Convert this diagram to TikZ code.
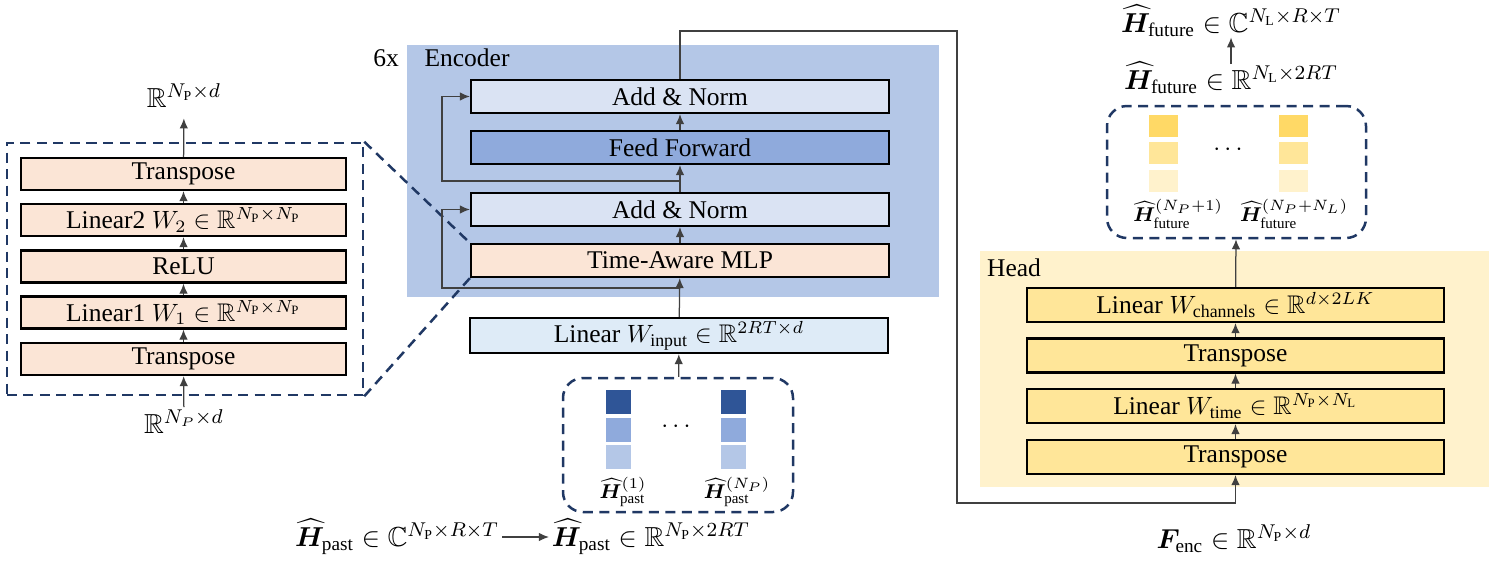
\documentclass[tikz,border=0pt]{standalone}
\usepackage{amsmath}
\usepackage{amssymb}
\usepackage{bm}
\usepackage{fontspec}
\setmainfont{Liberation Serif}
\usetikzlibrary{arrows.meta}
\definecolor{peach}{HTML}{FBE5D6}
\definecolor{encbg}{HTML}{B4C7E7}
\definecolor{addblue}{HTML}{DAE3F3}
\definecolor{ffblue}{HTML}{8FAADC}
\definecolor{inblue}{HTML}{DEEBF7}
\definecolor{headbg}{HTML}{FFF2CC}
\definecolor{headbox}{HTML}{FFE699}
\definecolor{navy}{HTML}{203864}
\definecolor{pastA}{HTML}{2F5597}
\definecolor{pastB}{HTML}{8FAADC}
\definecolor{pastC}{HTML}{B4C7E7}
\definecolor{futA}{HTML}{FFD966}
\definecolor{futB}{HTML}{FFE699}
\definecolor{futC}{HTML}{FFF2CC}
\newcommand{\Hh}{\widehat{\bm{H}}}
\newcommand{\R}{\mathbb{R}}
\newcommand{\NP}{N_\mathrm{P}}
\newcommand{\NL}{N_\mathrm{L}}

\begin{document}
\begin{tikzpicture}[x=0.4pt,y=-0.4pt,font=\fontsize{10.2}{12}\selectfont,
    box/.style={draw=black, line width=0.9pt, inner sep=0pt, minimum height=12.8pt},
    mlpbox/.style={box, fill=peach, minimum width=130pt},
    encbox/.style={box, minimum width=167.2pt, minimum height=13.2pt},
    headstep/.style={box, fill=headbox, minimum width=166.8pt, minimum height=13.6pt},
    flow/.style={draw=black!75, line width=0.5pt, -{Latex[length=4pt,width=3.4pt]}},
    zoomline/.style={draw=navy, line width=1pt, dash pattern=on 4pt off 2.6pt},
    pasttile/.style={inner sep=0pt, minimum width=10pt, minimum height=9.6pt},
    futtile/.style={inner sep=0pt, minimum width=11.6pt, minimum height=8.8pt},
    mathlbl/.style={font=\fontsize{11}{13}\selectfont, inner sep=1pt},
    tilelbl/.style={font=\fontsize{8}{10}\selectfont, inner sep=0.5pt}]
      \useasboundingbox (0,0) rectangle (1495,562);
      % backgrounds
      \fill[encbg] (407,45) rectangle (939,297);
      \fill[headbg] (980,251) rectangle (1489,487);
      \node (rep) at (386,58) {6x};
      \node (enclbl) at (467,58) {Encoder};
      \node (headlbl) at (1014,268) {Head};
      % time-aware MLP in detail
      \node[zoomline, draw, minimum width=142.4pt, minimum height=100.8pt] (mlpframe) at (185,269) {};
      \node[mlpbox] (trB) at (183.5,359) {Transpose};
      \node[mlpbox] (linA) at (183.5,312.5) {Linear1 $W_1 \in \R^{\NP\times\NP}$};
      \node[mlpbox] (relu) at (183.5,266.5) {ReLU};
      \node[mlpbox] (linB) at (183.5,220) {Linear2 $W_2 \in \R^{\NP\times\NP}$};
      \node[mlpbox] (trA) at (183.5,174) {Transpose};
      \node[mathlbl] (mlpin) at (184,422) {$\R^{N_P\times d}$};
      \node[mathlbl] (mlpout) at (184,96) {$\R^{\NP\times d}$};
      \draw[flow] (mlpin) -- (trB);
      \draw[flow] (trB) -- (linA);
      \draw[flow] (linA) -- (relu);
      \draw[flow] (relu) -- (linB);
      \draw[flow] (linB) -- (trA);
      \draw[flow, shorten >=3pt] (trA) -- (mlpout);
      % encoder
      \node[encbox, fill=addblue] (addtop) at (680,96.5) {Add \& Norm};
      \node[encbox, fill=ffblue] (ffwd) at (680,147.5) {Feed Forward};
      \node[encbox, fill=addblue] (addmid) at (680,209.5) {Add \& Norm};
      \node[encbox, fill=peach] (mlp) at (680,260.5) {Time-Aware MLP};
      \node[encbox, fill=inblue, minimum height=14pt] (linin) at (679,335.5) {Linear $W_\mathrm{input} \in \R^{2RT\times d}$};
      \draw[zoomline] (mlpframe.north east) -- (mlp.north west);
      \draw[zoomline] (mlpframe.south east) -- (mlp.south west);
      \coordinate (resA) at (680,181);
      \coordinate (skipA) at (442,181);
      \coordinate (resB) at (680,288);
      \coordinate (skipB) at (442,288);
      \draw[flow] (linin) -- (mlp);
      \draw[flow] (mlp) -- (addmid);
      \draw[flow] (addmid) -- (ffwd);
      \draw[flow] (ffwd) -- (addtop);
      \draw[flow] (resA) -- (skipA) |- (addtop.west);
      \draw[flow] (resB) -- (skipB) |- (addmid.west);
      % past input
      \node[draw=navy, line width=1pt, dash pattern=on 4pt off 2.6pt, rounded corners=8pt,
        minimum width=92pt, minimum height=53.6pt] (pastbox) at (678,445) {};
      \node[pasttile, fill=pastA] (p1a) at (618.5,402) {};
      \node[pasttile, fill=pastB] (p1b) at (618.5,430) {};
      \node[pasttile, fill=pastC] (p1c) at (618.5,457) {};
      \node[pasttile, fill=pastA] (p2a) at (733.5,402) {};
      \node[pasttile, fill=pastB] (p2b) at (733.5,430) {};
      \node[pasttile, fill=pastC] (p2c) at (733.5,457) {};
      \node (pdots) at (678,427) {$\cdots$};
      \node[tilelbl] (p1lbl) at (623,492) {$\Hh^{(1)}_\mathrm{past}$};
      \node[tilelbl] (p2lbl) at (737,492) {$\Hh^{(N_P)}_\mathrm{past}$};
      \draw[flow] (pastbox) -- (linin);
      \node[mathlbl] (pastC) at (397,537) {$\Hh_\mathrm{past} \in \mathbb{C}^{\NP\times R\times T}$};
      \node[mathlbl] (pastR) at (651,537) {$\Hh_\mathrm{past} \in \R^{\NP\times 2RT}$};
      \draw[flow] (pastC) -- (pastR);
      % head
      \node[headstep] (hch) at (1235.5,305) {Linear $W_\mathrm{channels} \in \R^{d\times 2LK}$};
      \node[headstep] (htrA) at (1235.5,355.5) {Transpose};
      \node[headstep] (htime) at (1235.5,406) {Linear $W_\mathrm{time} \in \R^{\NP\times\NL}$};
      \node[headstep] (htrB) at (1235.5,457) {Transpose};
      \draw[flow] (htrB) -- (htime);
      \draw[flow] (htime) -- (htrA);
      \draw[flow] (htrA) -- (hch);
      \coordinate (turnA) at (957,31);
      \coordinate (turnB) at (957,503);
      \draw[flow] (addtop.north) |- (turnA) -- (turnB) -| (htrB.south);
      \node[mathlbl] (fenc) at (1234,539) {$\bm{F}_\mathrm{enc} \in \R^{\NP\times d}$};
      % future output
      \node[draw=navy, line width=1pt, dash pattern=on 4pt off 2.6pt, rounded corners=8pt,
        minimum width=103.6pt, minimum height=52.8pt] (futbox) at (1236.5,172) {};
      \node[futtile, fill=futA] (f1a) at (1163.5,126) {};
      \node[futtile, fill=futB] (f1b) at (1163.5,153) {};
      \node[futtile, fill=futC] (f1c) at (1163.5,180.5) {};
      \node[futtile, fill=futA] (f2a) at (1293.5,126) {};
      \node[futtile, fill=futB] (f2b) at (1293.5,153) {};
      \node[futtile, fill=futC] (f2c) at (1293.5,180.5) {};
      \node (fdots) at (1230,150) {$\cdots$};
      \node[tilelbl] (f1lbl) at (1178,214) {$\Hh^{(N_P+1)}_\mathrm{future}$};
      \node[tilelbl] (f2lbl) at (1294,214) {$\Hh^{(N_P+N_L)}_\mathrm{future}$};
      \draw[flow] (hch) -- (futbox);
      \node[mathlbl] (futR) at (1231,78) {$\Hh_\mathrm{future} \in \R^{\NL\times 2RT}$};
      \node[mathlbl] (futC) at (1231,21) {$\Hh_\mathrm{future} \in \mathbb{C}^{\NL\times R\times T}$};
      \draw[flow, shorten <=-2pt, shorten >=-1pt] (futR) -- (futC);
    \end{tikzpicture}
\end{document}
